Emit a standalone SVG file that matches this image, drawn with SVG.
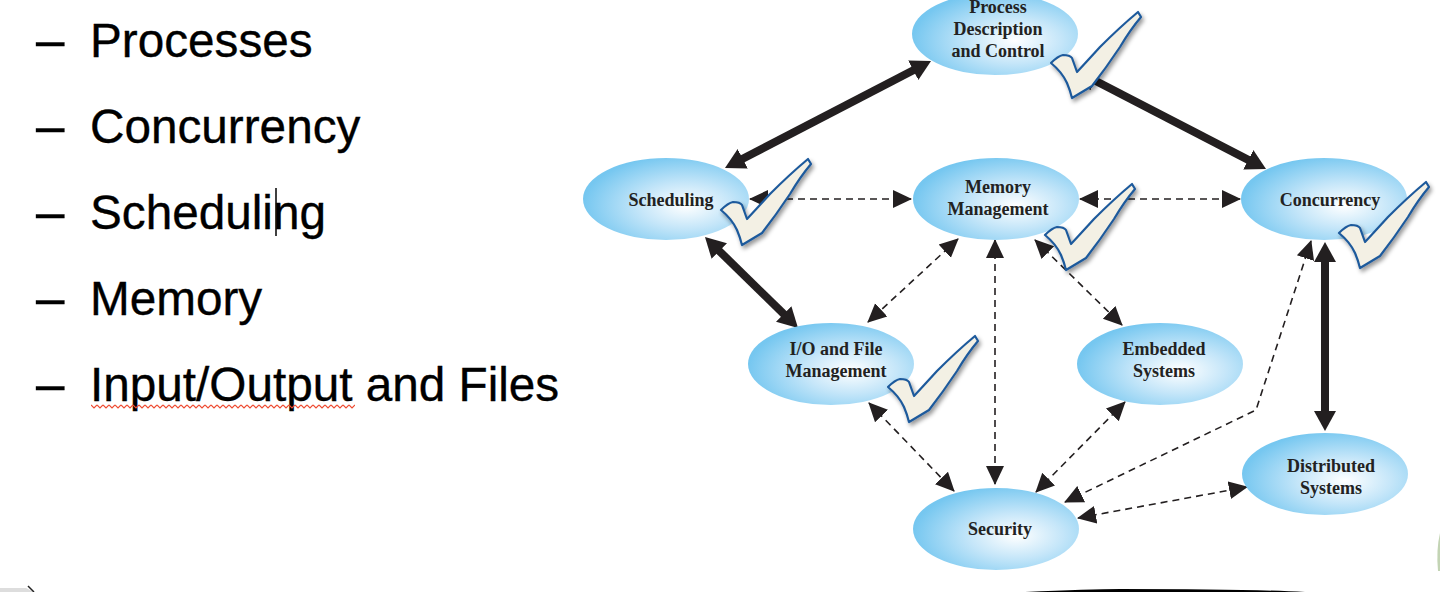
<svg xmlns="http://www.w3.org/2000/svg" width="1440" height="592" viewBox="0 0 1440 592">
<style>
.b{font-family:"Liberation Sans",Arial,sans-serif;font-size:47.7px;fill:#000;stroke:#000;stroke-width:.35}
.dash{font-size:51px}
.n{font-family:"Liberation Serif","Times New Roman",serif;font-weight:bold;font-size:18px;fill:#222;text-anchor:middle}
.e{fill:url(#g)}
.t{fill:none;stroke:#231f20;stroke-width:8;marker-start:url(#hb);marker-end:url(#hb)}
.d{fill:none;stroke:#231f20;stroke-width:1.6;stroke-dasharray:7 5;marker-start:url(#hs);marker-end:url(#hs)}
.c{fill:#f3f0e4;stroke:#1f5a9c;stroke-width:2.2;stroke-linejoin:round;filter:url(#s)}
</style>
<defs>
<radialGradient id="g" cx="0.62" cy="0.58" r="0.62"><stop offset="0" stop-color="#fff"/><stop offset="0.45" stop-color="#c5e6f9"/><stop offset="1" stop-color="#76c7f0"/></radialGradient>
<marker id="hb" markerUnits="userSpaceOnUse" markerWidth="24" markerHeight="24" refX="6" refY="12" orient="auto-start-reverse"><path d="M0 1L20 12L0 23Z" fill="#231f20"/></marker>
<marker id="hs" markerUnits="userSpaceOnUse" markerWidth="20" markerHeight="20" refX="18" refY="10" orient="auto-start-reverse"><path d="M0 1L19 10L0 19Z" fill="#231f20"/></marker>
<filter id="s" x="-20%" y="-20%" width="150%" height="150%"><feDropShadow dx="2" dy="3" stdDeviation="2" flood-color="#000" flood-opacity="0.4"/></filter>
<pattern id="sq" patternUnits="userSpaceOnUse" x="91" y="404" width="6" height="5"><path d="M0 1L3 4L6 1" fill="none" stroke="#ee4a30" stroke-width="1.2"/></pattern>
<path id="check" d="M1051 63Q1058 56 1063 55Q1070 55 1072 58L1077 72Q1090 58 1100 47Q1120 27 1138 12L1141 17Q1130 30 1120 47Q1106 68 1092 86Q1082 92 1072 98Q1070 90 1067 83Q1062 72 1051 63Z"/>
</defs>
<g id="bullets">
<text class="b dash" x="36" y="57">–</text><text class="b" x="90" y="57">Processes</text>
<text class="b dash" x="36" y="143">–</text><text class="b" x="90" y="143">Concurrency</text>
<text class="b dash" x="36" y="229">–</text><text class="b" x="90" y="229">Scheduling</text>
<text class="b dash" x="36" y="315">–</text><text class="b" x="90" y="315">Memory</text>
<text class="b dash" x="36" y="401">–</text><text class="b" x="90" y="401">Input/Output and Files</text>
<path d="M276 188V236" stroke="#000" stroke-width="1.5"/>
<rect x="91" y="404" width="264" height="5" fill="url(#sq)"/>
</g>
<g id="connectors">
<path class="t" d="M737.4 161.5L918.6 67.5"/>
<path class="t" d="M1090 78L1253.6 162.6"/>
<path class="t" d="M715 246.8L788 318.2"/>
<path class="t" d="M1325 256V417"/>
<path class="d" d="M750 199H911"/>
<path class="d" d="M1080 199H1240"/>
<path class="d" d="M958 239L868 322"/>
<path class="d" d="M995 240V484"/>
<path class="d" d="M1035 240L1122 325"/>
<path class="d" d="M869 403L954 491"/>
<path class="d" d="M1125 402L1036 492"/>
<path class="d" d="M1311 241L1256 410L1065 502"/>
<path class="d" d="M1078 518L1247 487"/>
</g>
<g id="process"><ellipse class="e" cx="995" cy="34" rx="83" ry="41"/><text class="n" x="998" y="13">Process</text><text class="n" x="998" y="35">Description</text><text class="n" x="998" y="57">and Control</text></g>
<g id="scheduling"><ellipse class="e" cx="666" cy="199" rx="83" ry="41"/><text class="n" x="671" y="206">Scheduling</text></g>
<g id="memory"><ellipse class="e" cx="996" cy="199" rx="83" ry="41"/><text class="n" x="998" y="193">Memory</text><text class="n" x="998" y="215">Management</text></g>
<g id="concurrency"><ellipse class="e" cx="1324" cy="199" rx="83" ry="41"/><text class="n" x="1330" y="206">Concurrency</text></g>
<g id="io"><ellipse class="e" cx="831" cy="364" rx="83" ry="41"/><text class="n" x="836" y="355">I/O and File</text><text class="n" x="836" y="377">Management</text></g>
<g id="embedded"><ellipse class="e" cx="1160" cy="364" rx="83" ry="41"/><text class="n" x="1164" y="355">Embedded</text><text class="n" x="1164" y="377">Systems</text></g>
<g id="distributed"><ellipse class="e" cx="1325" cy="474" rx="83" ry="41"/><text class="n" x="1331" y="472">Distributed</text><text class="n" x="1331" y="494">Systems</text></g>
<g id="security"><ellipse class="e" cx="996" cy="529" rx="83" ry="41"/><text class="n" x="1000" y="535">Security</text></g>
<g id="checks">
<use href="#check" class="c"/>
<use href="#check" class="c" transform="translate(-330 147)"/>
<use href="#check" class="c" transform="translate(-6 172)"/>
<use href="#check" class="c" transform="translate(288 170)"/>
<use href="#check" class="c" transform="translate(-163 324)"/>
</g>
<g id="edges">
<path d="M1025 592Q1090 589 1120 589Q1250 589 1305 592Z" fill="#000"/>
<path d="M0 592V588H26L34 592Z" fill="#ddd"/>
<path d="M28 586L34 592" stroke="#222" stroke-width="1.5"/>
<path d="M1440 533Q1436 550 1438 571L1440 571Z" fill="#c3d4b4"/>
</g>
</svg>
